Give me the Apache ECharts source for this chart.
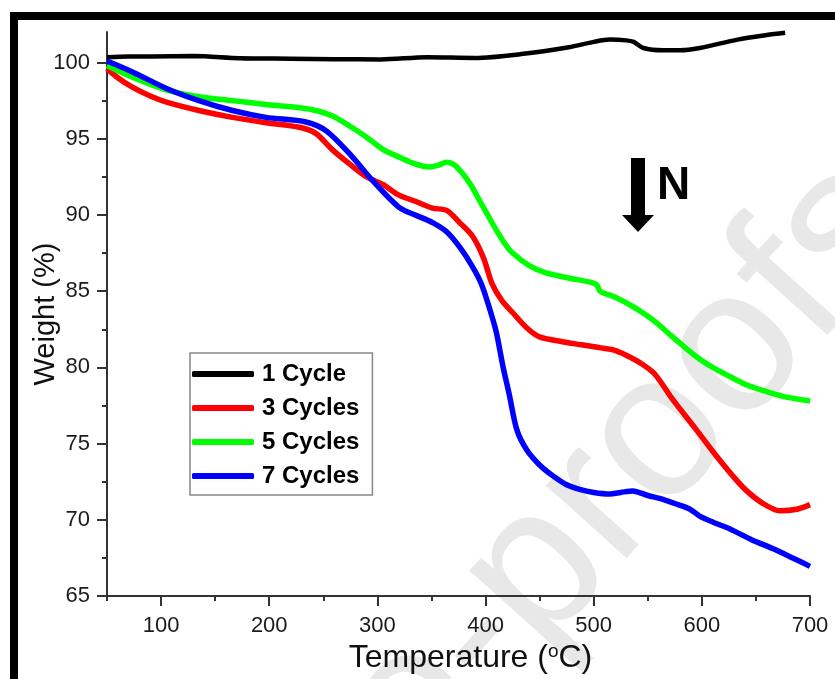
<!DOCTYPE html>
<html>
<head>
<meta charset="utf-8">
<script src="https://cdn.jsdelivr.net/npm/echarts@6/dist/echarts.min.js"></script>
<style>
html,body{margin:0;padding:0;background:#fff;}
#chart{width:835px;height:679px;}
</style>
</head>
<body>
<div id="chart"></div>
<script>
// ---- data ----
var seriesNames = ['1 Cycle', '3 Cycles', '5 Cycles', '7 Cycles'];
var seriesColors = ['#000000', '#ff0000', '#00ff00', '#0000ff'];

var cycle1Temp   = [50, 70, 90, 130, 173, 220, 260, 303, 346, 390, 433, 477, 500, 515, 530, 537, 546, 564, 580, 598, 633, 660, 677];
var cycle1Weight = [100.35, 100.4, 100.4, 100.42, 100.28, 100.25, 100.22, 100.2, 100.35, 100.3, 100.55, 101.0, 101.35, 101.5, 101.45, 101.35, 100.95, 100.8, 100.8, 100.95, 101.5, 101.8, 101.95];

var cycle3Temp   = [50, 60, 73, 90, 105, 135, 166, 197, 228, 243, 258, 275, 290, 305, 320, 335, 351, 364, 376, 388, 398, 406, 415, 425, 438, 450, 470, 487, 505, 518, 530, 543, 556, 573, 595, 610, 626, 640, 656, 672, 688, 700];
var cycle3Weight = [99.6, 99.0, 98.4, 97.8, 97.4, 96.85, 96.4, 96.05, 95.75, 95.35, 94.3, 93.3, 92.5, 92.0, 91.3, 90.9, 90.45, 90.3, 89.5, 88.6, 87.2, 85.5, 84.4, 83.6, 82.6, 82.0, 81.7, 81.5, 81.3, 81.15, 80.8, 80.3, 79.6, 77.9, 75.9, 74.5, 73.1, 72.0, 71.1, 70.6, 70.7, 71.0];

var cycle5Temp   = [50, 73, 105, 135, 166, 197, 220, 240, 258, 275, 290, 305, 320, 335, 348, 356, 364, 371, 379, 387, 394, 402, 410, 418, 425, 440, 456, 478, 499, 503, 506, 520, 536, 555, 573, 595, 610, 626, 640, 656, 675, 700];
var cycle5Weight = [99.8, 99.05, 98.2, 97.75, 97.5, 97.25, 97.1, 96.9, 96.5, 95.8, 95.1, 94.3, 93.8, 93.35, 93.15, 93.25, 93.45, 93.3, 92.7, 91.9, 91.0, 90.0, 89.0, 88.1, 87.5, 86.7, 86.2, 85.85, 85.55, 85.4, 85.0, 84.6, 84.0, 83.1, 82.0, 80.7, 80.0, 79.4, 78.9, 78.5, 78.1, 77.8];

var cycle7Temp   = [50, 73, 105, 135, 166, 197, 234, 253, 277, 295, 320, 335, 351, 364, 376, 388, 396, 404, 410, 416, 422, 429, 438, 450, 462, 475, 487, 500, 515, 525, 536, 550, 564, 578, 589, 598, 612, 626, 646, 666, 684, 700];
var cycle7Weight = [100.1, 99.4, 98.3, 97.5, 96.85, 96.4, 96.1, 95.5, 93.8, 92.3, 90.5, 90.0, 89.5, 88.9, 87.9, 86.6, 85.5, 83.8, 82.3, 80.1, 78.2, 75.9, 74.6, 73.6, 72.9, 72.3, 72.0, 71.8, 71.7, 71.8, 71.9, 71.6, 71.35, 71.0, 70.7, 70.25, 69.8, 69.4, 68.7, 68.1, 67.5, 66.95];

var xMajorTicks = [100, 200, 300, 400, 500, 600, 700];
var xMinorTicks = [50, 150, 250, 350, 450, 550, 650];
var yMajorTicks = [65, 70, 75, 80, 85, 90, 95, 100];
var yMinorTicks = [67.5, 72.5, 77.5, 82.5, 87.5, 92.5, 97.5];

var xName = 'Temperature ({sup|o}C)';
var yName = 'Weight (%)';
var arrowLabel = 'N';
var watermark = 'Journal Pre-proofs';

// ---- build ----
function zip(a, b) { return a.map(function (v, i) { return [v, b[i]]; }); }
var allTemps = [cycle1Temp, cycle3Temp, cycle5Temp, cycle7Temp];
var allWeights = [cycle1Weight, cycle3Weight, cycle5Weight, cycle7Weight];

var FONT = '"Liberation Sans", Arial, sans-serif';
var axisColor = '#333';

var series = seriesNames.map(function (name, i) {
  return {
    name: name,
    type: 'line',
    data: zip(allTemps[i], allWeights[i]),
    showSymbol: false,
    smooth: 0.3,
    clip: false,
    z: 3 + i,
    lineStyle: { color: seriesColors[i], width: i === 0 ? 4.5 : 5.5 },
    itemStyle: { color: seriesColors[i] }
  };
});

var chart = echarts.init(document.getElementById('chart'), null, { renderer: 'canvas' });
var ang = 48 * Math.PI / 180;
var option = {
  backgroundColor: '#ffffff',
  animation: false,
  grid: { left: 107, right: 25, top: 32, bottom: 82, containLabel: false },
  legend: {
    orient: 'vertical',
    left: 190, top: 353,
    data: seriesNames,
    icon: 'roundRect',
    itemWidth: 62, itemHeight: 6,
    itemGap: 10,
    padding: [9, 13, 7, 2],
    borderColor: '#888',
    borderWidth: 1.5,
    borderRadius: 0,
    backgroundColor: '#fff',
    textStyle: { fontFamily: FONT, fontSize: 24, fontWeight: 'bold', color: '#000', padding: [0, 0, 0, 3] }
  },
  xAxis: [{
    type: 'value', min: 50, max: 700,
    position: 'bottom',
    name: xName, nameLocation: 'middle', nameGap: 39,
    nameTextStyle: { fontFamily: FONT, fontSize: 32, color: '#111', padding: [0, 0, 0, 24], lineHeight: 32,
      rich: { sup: { fontSize: 19, verticalAlign: 'top', fontFamily: FONT, color: '#111', lineHeight: 32 } } },
    axisLine: { show: true, onZero: false, lineStyle: { color: axisColor, width: 2 } },
    axisTick: { show: true, inside: false, length: 10, customValues: xMajorTicks, lineStyle: { color: axisColor, width: 2 } },
    axisLabel: { customValues: xMajorTicks, margin: 19, fontFamily: FONT, fontSize: 22, color: '#1a1a1a' },
    splitLine: { show: false }
  }, {
    type: 'value', min: 50, max: 700,
    position: 'bottom',
    axisLine: { show: false, onZero: false },
    axisTick: { show: true, length: 5, customValues: xMinorTicks, lineStyle: { color: axisColor, width: 2 } },
    axisLabel: { show: false },
    splitLine: { show: false }
  }],
  yAxis: [{
    type: 'value', min: 65, max: 102,
    position: 'left',
    name: yName, nameLocation: 'middle', nameGap: 47, nameRotate: 90,
    nameMoveOverlap: false,
    nameTextStyle: { fontFamily: FONT, fontSize: 29, color: '#111' },
    axisLine: { show: true, onZero: false, lineStyle: { color: axisColor, width: 2 } },
    axisTick: { show: true, inside: false, length: 10, customValues: yMajorTicks, lineStyle: { color: axisColor, width: 2 } },
    axisLabel: { customValues: yMajorTicks, margin: 17, fontFamily: FONT, fontSize: 22, color: '#1a1a1a' },
    splitLine: { show: false }
  }, {
    type: 'value', min: 65, max: 102,
    position: 'left',
    axisLine: { show: false, onZero: false },
    axisTick: { show: true, length: 5, customValues: yMinorTicks, lineStyle: { color: axisColor, width: 2 } },
    axisLabel: { show: false },
    splitLine: { show: false }
  }],
  graphic: [
    {
      type: 'text', z: -10, silent: true,
      x: 880, y: 192, rotation: ang,
      style: { text: watermark, fontFamily: FONT, fontSize: 205, fill: '#e8e8e8', align: 'right', verticalAlign: 'middle' }
    },
    {
      type: 'rect', silent: true, z: 100,
      shape: { x: 14, y: 16, width: 900, height: 900 },
      style: { fill: 'none', stroke: '#000', lineWidth: 8 }
    },
    {
      type: 'polygon', silent: true, z: 100,
      shape: { points: [[631, 158], [645, 158], [645, 215], [654, 215], [638, 232], [622, 215], [631, 215]] },
      style: { fill: '#000' }
    },
    {
      type: 'text', silent: true, z: 100,
      x: 657, y: 186,
      style: { text: arrowLabel, fontFamily: FONT, fontSize: 46, fontWeight: 'bold', fill: '#000', align: 'left', verticalAlign: 'middle' }
    }
  ],
  series: series
};
chart.setOption(option);
</script>
</body>
</html>
